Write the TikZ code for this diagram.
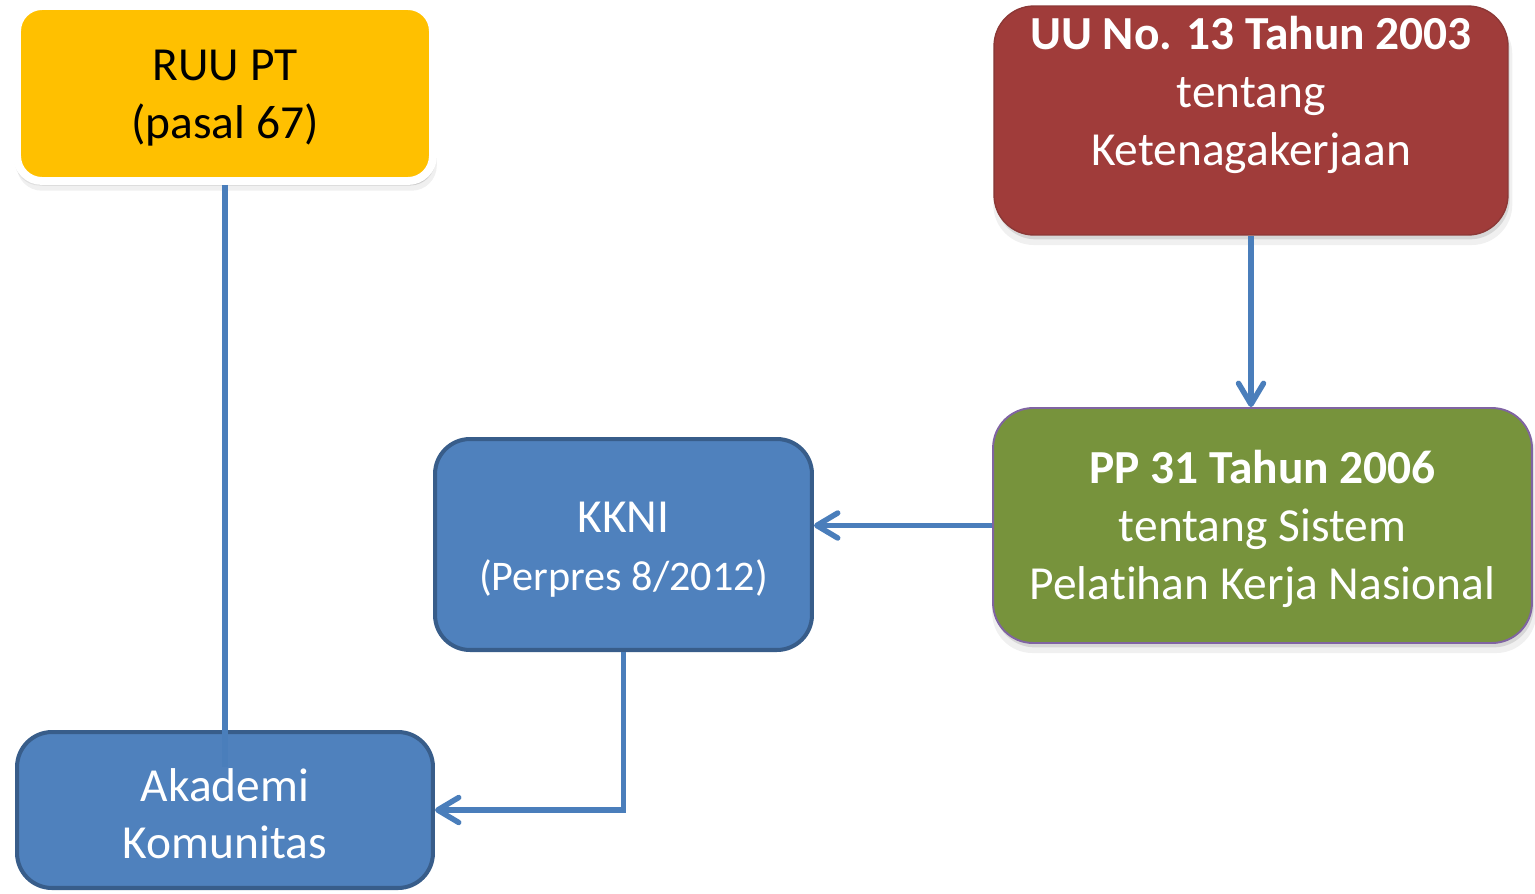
\documentclass[tikz,border=0pt]{standalone}
\usepackage{fontspec}
\setmainfont{Carlito}[Ligatures=NoCommon]
\usepackage{tikz}
\usetikzlibrary{
    arrows.meta,
    shadows,
    calc,
    positioning
}
\definecolor{ruuYellow}{HTML}{FFC000}
\definecolor{uuRed}{HTML}{A03C3A}
\definecolor{uuRedEdge}{HTML}{8C3836}
\definecolor{ppGreen}{HTML}{77933C}
\definecolor{ppPurple}{HTML}{8064A2}
\definecolor{boxBlue}{HTML}{4F81BD}
\definecolor{boxBlueEdge}{HTML}{385D8A}
\definecolor{linkBlue}{HTML}{4A7EBB}
\newcommand{\firstline}{\rule{0pt}{0.85em}}

\begin{document}
\begin{tikzpicture}[x=0.02cm, y=-0.02cm,
    every node/.style={font=\fontsize{27}{33}\selectfont, align=center},
    softshadow/.style={drop shadow={opacity=0.12, shadow xshift=1pt, shadow yshift=-5pt, shadow scale=1.01},
                       drop shadow={opacity=0.22, shadow xshift=1pt, shadow yshift=-2.5pt}},
    ruubox/.style={draw=white, line width=4.5pt, fill=ruuYellow, rounded corners=0.5cm, softshadow,
                   drop shadow={opacity=0.15, shadow xshift=0pt, shadow yshift=-2pt, shadow scale=1.012}},
    uubox/.style={draw=uuRedEdge, line width=0.8pt, fill=uuRed, rounded corners=0.8cm, softshadow},
    ppbox/.style={draw=ppPurple, line width=1.1pt, fill=ppGreen, text=white, rounded corners=0.8cm, softshadow},
    bluebox/.style={draw=boxBlueEdge, line width=2.3pt, fill=boxBlue, text=white, rounded corners=0.7cm},
    link/.style={draw=linkBlue, line width=3.1pt},
    linkarrow/.style={link, -{Straight Barb[length=0.42cm, width=0.5cm, line cap=round, line join=round]}}
]
                        \useasboundingbox (0,0) rectangle (1535,893);
                        \node[ruubox, minimum width=8.32cm, minimum height=3.5cm] (ruu) at (225, 93.5) {\firstline RUU PT\\(pasal 67)};
                        \node[uubox, minimum width=10.28cm, minimum height=4.58cm] (uu) at (1251, 120.5) {};
                        \node[text=white] (uuText) at (1251, 95) {\textbf{UU No. 13 Tahun 2003}\\tentang\\Ketenagakerjaan};
                        \node[ppbox, minimum width=10.78cm, minimum height=4.7cm] (pp) at (1262.5, 525.5) {\firstline\textbf{PP 31 Tahun 2006}\\tentang Sistem\\Pelatihan Kerja Nasional};
                        \node[bluebox, minimum width=7.54cm, minimum height=4.22cm] (kkni) at (623.5, 544.5) {\firstline KKNI\\{\fontsize{24}{33}\selectfont(Perpres 8/2012)}};
                        \node[bluebox, minimum width=8.32cm, minimum height=3.12cm] (ak) at (225, 810) {\firstline Akademi\\Komunitas};
                        \coordinate (akTop) at (225, 767);
                        \draw[link] (ruu.south) -- (akTop);
                        \draw[linkarrow] (uu.south) -- (uu.south |- pp.north);
                        \draw[linkarrow] (pp.west) -- (pp.west -| kkni.east);
                        \draw[linkarrow] (kkni.south) |- (ak.east);
                    \end{tikzpicture}
\end{document}
